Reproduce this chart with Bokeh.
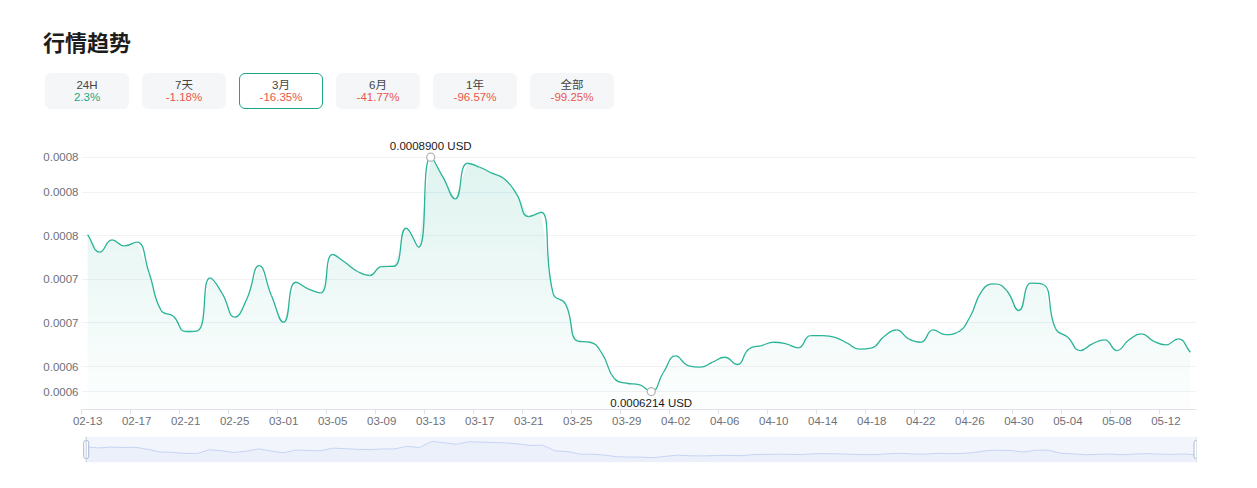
import numpy as np
import pandas as pd
from bokeh.plotting import figure
from bokeh.layouts import column
from bokeh.models import Div, FixedTicker, Span, BoxAnnotation, Range1d
from bokeh.core.properties import value
from bokeh.embed import file_html
from bokeh.resources import INLINE

# ---------------- data ----------------
title_text = "行情趋势"
period_labels = ["24H", "7天", "3月", "6月", "1年", "全部"]
period_changes = ["2.3%", "-1.18%", "-16.35%", "-41.77%", "-96.57%", "-99.25%"]
selected_period = "3月"
currency = "USD"

start_date = "2025-02-13"
prices = [
    0.0008014, 0.0007811, 0.0007953, 0.0007884, 0.0007926, 0.0007582, 0.0007143, 0.0007077,
    0.0006902, 0.0006913, 0.0007517, 0.0007334, 0.0007066, 0.0007277, 0.0007658, 0.0007315,
    0.0007008, 0.0007467, 0.0007391, 0.0007345, 0.0007785, 0.0007696, 0.0007593, 0.0007544,
    0.0007647, 0.0007650, 0.0008086, 0.0007868, 0.0008900, 0.0008671, 0.0008423, 0.0008831,
    0.0008785, 0.0008717, 0.0008652, 0.0008480, 0.0008220, 0.0008269, 0.0007334, 0.0007219,
    0.0006791, 0.0006779, 0.0006646, 0.0006360, 0.0006309, 0.0006294, 0.0006214, 0.0006435,
    0.0006623, 0.0006512, 0.0006493, 0.0006550, 0.0006607, 0.0006524, 0.0006704, 0.0006741,
    0.0006779, 0.0006761, 0.0006715, 0.0006856, 0.0006856, 0.0006836, 0.0006768, 0.0006699,
    0.0006715, 0.0006844, 0.0006921, 0.0006818, 0.0006779, 0.0006921, 0.0006867, 0.0006894,
    0.0007066, 0.0007372, 0.0007449, 0.0007372, 0.0007143, 0.0007456, 0.0007441, 0.0006933,
    0.0006836, 0.0006684, 0.0006761, 0.0006807, 0.0006684, 0.0006807, 0.0006875, 0.0006791,
    0.0006749, 0.0006818, 0.0006665,
]
dates = pd.date_range(start_date, periods=len(prices)).strftime("%m-%d").tolist()
label_every = 4
y_ticks = [0.0006214, 0.00065, 0.0007, 0.00075, 0.0008, 0.00085, 0.00089]
y_tick_labels = ["0.0006", "0.0006", "0.0007", "0.0007", "0.0008", "0.0008", "0.0008"]

# ---------------- styles ----------------
LINE_COLOR = "#2ab397"
FONT = "Liberation Sans"
n = len(prices)
xs = np.arange(n, dtype=float)
ys = np.array(prices)
vmax, vmin = ys.max(), ys.min()
imax, imin = int(ys.argmax()), int(ys.argmin())

# ---------------- header ----------------
btns = ""
for i, (lab, chg) in enumerate(zip(period_labels, period_changes)):
    left = 45 + 97 * i
    sel = lab == selected_period
    bg = "#ffffff" if sel else "#f5f6f8"
    border = "#1aa58a" if sel else "#f5f6f8"
    col = "#e9574c" if chg.startswith("-") else "#1ba784"
    btns += (
        f'<div style="position:absolute;left:{left}px;top:73px;width:84px;height:36px;'
        f'box-sizing:border-box;background:{bg};border:1px solid {border};border-radius:6px;'
        f"text-align:center;font-family:'Liberation Sans','Noto Sans CJK SC',sans-serif;font-size:11.5px;\">"
        f'<div style="position:absolute;left:0;right:0;top:4.5px;line-height:13px;color:#444;">{lab}</div>'
        f'<div style="position:absolute;left:0;right:0;top:17px;line-height:13px;color:{col};">{chg}</div>'
        f"</div>"
    )
header_html = (
    '<div style="position:relative;width:1241px;height:120px;">'
    f"<div style=\"position:absolute;left:43px;top:30px;font-family:'Noto Sans CJK SC';"
    f'font-weight:bold;font-size:22px;line-height:22px;color:#1d1d1d;white-space:nowrap;">{title_text}</div>'
    f"{btns}</div>"
)
header = Div(text=header_html, width=1241, height=120, margin=0)

# ---------------- main chart ----------------
W, H = 1241, 315
BL, BR, BT, BB = 81, 45, 15, 26
y0r, y1r = 0.0006008, 0.0009149
p = figure(width=W, height=H, x_range=Range1d(-0.5, n - 0.5), y_range=Range1d(y0r, y1r),
           output_backend="svg", toolbar_location=None, title=None,
           min_border_left=BL, min_border_right=BR, min_border_top=BT, min_border_bottom=BB)
p.outline_line_color = None
p.background_fill_color = "white"
p.border_fill_color = "white"

sx = (W - BL - BR) / n
sy = (H - BT - BB) / (y1r - y0r)

# gradient-like area fill from bands
N = 40
levels = np.linspace(y0r, vmax, N + 1)
for k in range(N):
    a = 0.01 + 0.14 * (k + 0.5) / N
    p.varea(x=xs, y1=np.minimum(ys, levels[k]), y2=np.minimum(ys, levels[k + 1]),
            fill_color=LINE_COLOR, fill_alpha=a)

# smooth line (echarts-like bezier control points)
px, py = xs * sx, ys * sy
smooth = 0.5
cin = np.zeros((n, 2))
cout = np.zeros((n, 2))
for i in range(n):
    P = np.array([px[i], py[i]])
    A = np.array([px[i - 1], py[i - 1]]) if i > 0 else P
    B = np.array([px[i + 1], py[i + 1]]) if i < n - 1 else P
    v = B - A
    l0 = float(np.hypot(*(P - A)))
    l1 = float(np.hypot(*(B - P)))
    r = 0.5 if (l0 + l1) == 0 else l1 / (l0 + l1)
    out = P + v * smooth * r
    inn = P - v * smooth * (1 - r)
    out = np.minimum(np.maximum(out, np.minimum(P, B)), np.maximum(P, B))
    if l0 > 0 and l1 > 0:
        inn = P - (out - P) * l0 / l1
    inn = np.minimum(np.maximum(inn, np.minimum(P, A)), np.maximum(P, A))
    if l0 > 0 and l1 > 0:
        out = P + (P - inn) * l1 / l0
    cin[i] = inn
    cout[i] = out

p.bezier(x0=xs[:-1], y0=ys[:-1], x1=xs[1:], y1=ys[1:],
         cx0=cout[:-1, 0] / sx, cy0=cout[:-1, 1] / sy,
         cx1=cin[1:, 0] / sx, cy1=cin[1:, 1] / sy,
         line_color=LINE_COLOR, line_width=1.3)

# max / min markers and labels
p.scatter(x=[imax, imin], y=[vmax, vmin], size=8, marker="circle",
          fill_color="white", line_color="#b4b4b4", line_width=1.3)
p.text(x=[imax], y=[vmax], text=[f"{vmax:.7f} {currency}"], text_align="center",
       text_baseline="bottom", y_offset=-5, text_font=value(FONT), text_font_size="11.5px",
       text_color="#1a1a1a")
p.text(x=[imin], y=[vmin], text=[f"{vmin:.7f} {currency}"], text_align="center",
       text_baseline="top", y_offset=5, text_font=value(FONT), text_font_size="11.5px",
       text_color="#1a1a1a")

# axes
tick_idx = list(range(0, n, label_every))
p.xaxis.ticker = FixedTicker(ticks=tick_idx, minor_ticks=[t - 0.5 for t in tick_idx])
p.xaxis.major_label_overrides = {t: dates[t] for t in tick_idx}
p.xaxis.axis_line_color = "#dfe2e8"
p.xaxis.major_tick_line_color = None
p.xaxis.major_tick_out = 5
p.xaxis.major_tick_in = 0
p.xaxis.minor_tick_line_color = "#dfe2e8"
p.xaxis.minor_tick_out = 5
p.xaxis.minor_tick_in = 0
p.xaxis.major_label_standoff = 2
p.xaxis.major_label_text_font = FONT
p.xaxis.major_label_text_font_size = "11.5px"
p.xaxis.major_label_text_color = "#6e7079"

p.yaxis.ticker = FixedTicker(ticks=y_ticks)
p.yaxis.major_label_overrides = {t: l for t, l in zip(y_ticks, y_tick_labels)}
p.yaxis.axis_line_color = None
p.yaxis.major_tick_line_color = None
p.yaxis.minor_tick_line_color = None
p.yaxis.major_tick_out = 0
p.yaxis.major_label_standoff = 3
p.yaxis.major_label_text_font = FONT
p.yaxis.major_label_text_font_size = "11.5px"
p.yaxis.major_label_text_color = "#6e7079"

p.xgrid.visible = False
p.ygrid.grid_line_color = "#f1f2f5"

# ---------------- data zoom slider ----------------
span = vmax - vmin
s = figure(width=W, height=35, x_range=Range1d(-0.38, n - 1),
           y_range=Range1d(vmin - 0.3 * span, vmax + 0.3 * span),
           x_axis_type=None, y_axis_type=None, output_backend="svg",
           toolbar_location=None, title=None,
           min_border_left=78, min_border_right=45, min_border_top=1, min_border_bottom=8)
s.outline_line_color = None
s.grid.visible = False
s.background_fill_color = "white"
s.border_fill_color = "white"
s.add_layout(BoxAnnotation(left=0, fill_color="#f3f5fd", fill_alpha=1.0,
                           line_color=None, level="underlay"))
s.varea(x=xs, y1=vmin - 0.3 * span, y2=ys, fill_color="#d2dbee", fill_alpha=0.2)
s.line(x=xs, y=ys, line_color="#c6d4f3", line_width=1)
for edge in (0, n - 1):
    s.add_layout(Span(location=edge, dimension="height", line_color="#c3cbdb", line_width=1))
s.rect(x=[0, n - 1], y=[(vmin + vmax) / 2] * 2, width=5, height=18,
       width_units="screen", height_units="screen", fill_color="white",
       line_color="#acb8d1", line_width=1, border_radius=2)

layout = column(header, p, s)
open("out.html", "w").write(file_html(layout, INLINE))
